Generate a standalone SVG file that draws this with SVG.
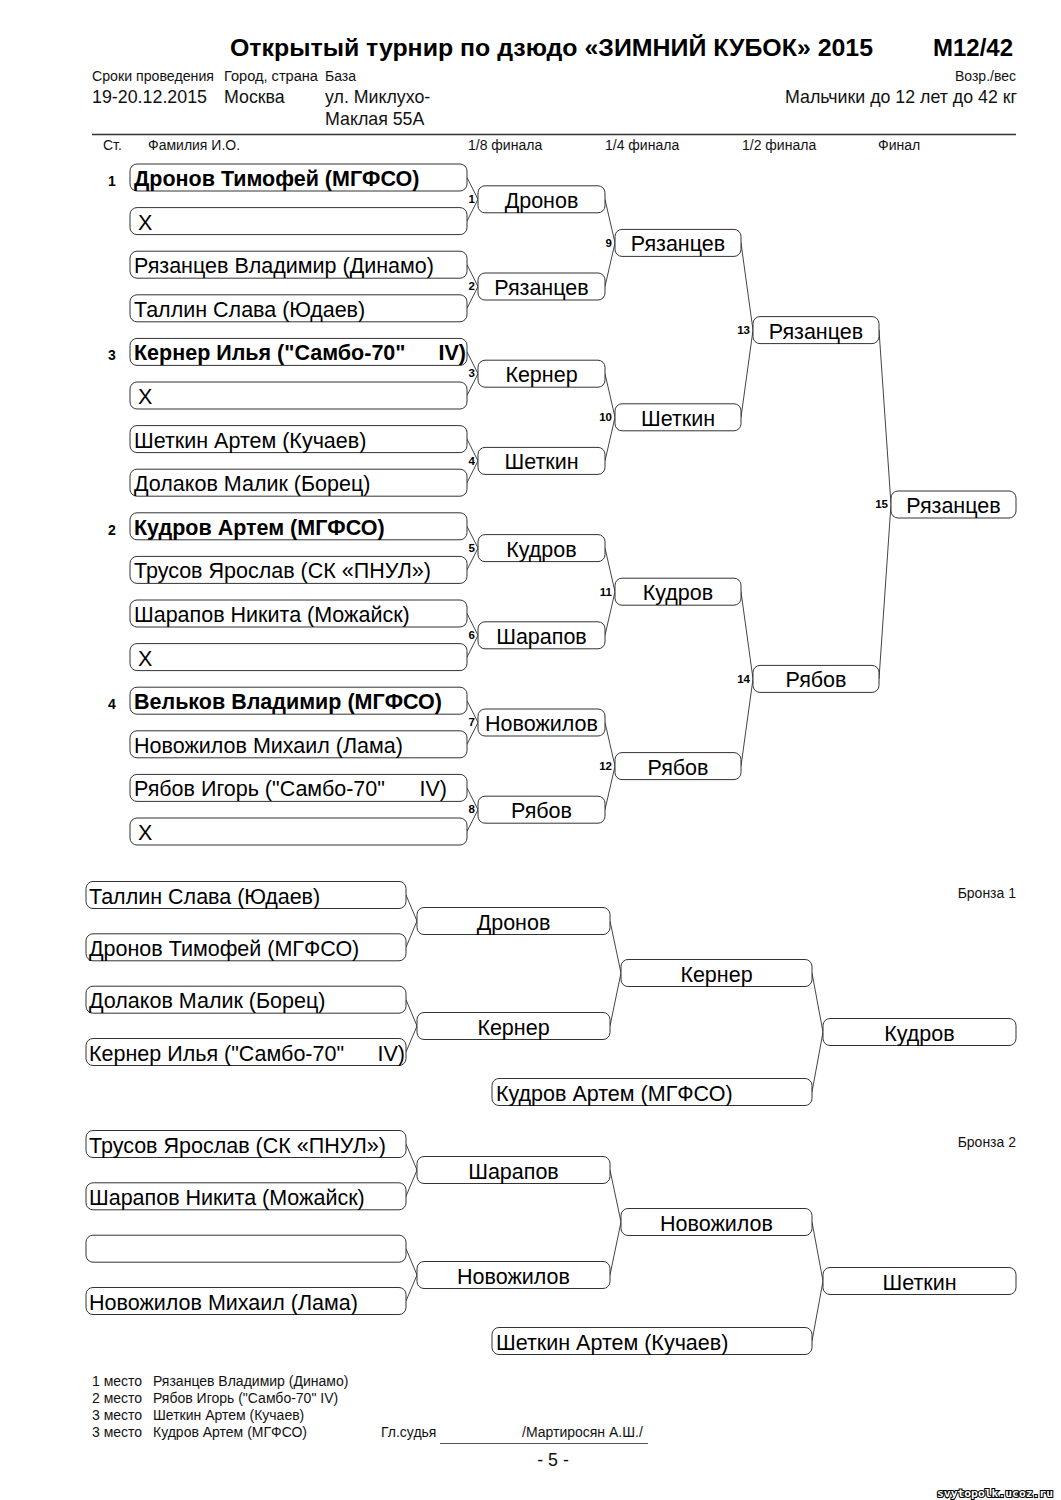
<svg xmlns="http://www.w3.org/2000/svg" width="1061" height="1500" viewBox="0 0 1061 1500">
<style>
.bx{fill:#fff;stroke:#333;stroke-width:1}
.nm{font-family:"Liberation Sans",Arial,sans-serif;font-size:21.5px;fill:#000}
.b{font-weight:bold}
.c{text-anchor:middle}
.sd{font-family:"Liberation Sans",Arial,sans-serif;font-size:14px;font-weight:bold}
.mn{font-family:"Liberation Sans",Arial,sans-serif;font-size:11.5px;font-weight:bold;text-anchor:end}
.sm{font-family:"Liberation Sans Narrow","Liberation Sans",Arial,sans-serif;font-size:14px;fill:#111}
.md{font-family:"Liberation Sans",Arial,sans-serif;font-size:17.8px;fill:#111}
.ln{stroke:#444;stroke-width:1;fill:none}
</style>
<rect width="1061" height="1500" fill="#fff"/>
<g id="header">
<text x="230" y="56" font-family="Liberation Sans,Arial,sans-serif" font-size="24" font-weight="bold" textLength="643" lengthAdjust="spacingAndGlyphs">Открытый турнир по дзюдо «ЗИМНИЙ КУБОК» 2015</text>
<text x="1013" y="56" font-family="Liberation Sans,Arial,sans-serif" font-size="24" font-weight="bold" text-anchor="end">М12/42</text>
<text class="sm" x="92" y="81" textLength="122" lengthAdjust="spacingAndGlyphs">Сроки проведения</text>
<text class="sm" x="224" y="81" textLength="94" lengthAdjust="spacingAndGlyphs">Город, страна</text>
<text class="sm" x="325" y="81">База</text>
<text class="sm" x="1016" y="81" text-anchor="end">Возр./вес</text>
<text class="md" x="92" y="103" textLength="115" lengthAdjust="spacingAndGlyphs">19-20.12.2015</text>
<text class="md" x="224" y="103">Москва</text>
<text class="md" x="325" y="103">ул. Миклухо-</text>
<text class="md" x="325" y="125">Маклая 55А</text>
<text class="md" x="1017" y="103" text-anchor="end" textLength="232" lengthAdjust="spacingAndGlyphs">Мальчики до 12 лет до 42 кг</text>
<line x1="92" y1="134.5" x2="1016" y2="134.5" stroke="#333" stroke-width="1.5"/>
<text class="sm" x="103" y="150">Ст.</text>
<text class="sm" x="148" y="150">Фамилия И.О.</text>
<text class="sm" x="468" y="150">1/8 финала</text>
<text class="sm" x="605" y="150">1/4 финала</text>
<text class="sm" x="742" y="150">1/2 финала</text>
<text class="sm" x="878" y="150">Финал</text>
</g>
<g id="connectors">
<path class="ln" d="M467,177.5L478,199.3L467,221.1 M467,264.7L478,286.5L467,308.3 M467,351.9L478,373.7L467,395.5 M467,439.1L478,460.9L467,482.7 M467,526.3L478,548.1L467,569.9 M467,613.5L478,635.3L467,657.1 M467,700.7L478,722.5L467,744.3 M467,787.9L478,809.7L467,831.5"/>
<path class="ln" d="M605,199.3L615,242.9L605,286.5 M605,373.7L615,417.3L605,460.9 M605,548.1L615,591.7L605,635.3 M605,722.5L615,766.1L605,809.7"/>
<path class="ln" d="M741,242.9L753,330.1L741,417.3 M741,591.7L753,678.9L741,766.1"/>
<path class="ln" d="M879,330.1L891,504.5L879,678.9"/>
<path class="ln" d="M406,895L417,921L406,947.3 M406,999.7L417,1026L406,1052 M610,921L621,973L610,1026 M812,973L823,1032L812,1092"/>
<path class="ln" d="M406,1144L417,1170L406,1196.3 M406,1248.7L417,1275L406,1301 M610,1170L621,1222L610,1275 M812,1222L823,1281L812,1341"/>
</g>
<g id="entrants">
<g id="e1"><text class="sd" x="108" y="186">1</text><rect class="bx" x="130" y="164" width="337" height="27" rx="7"/><text class="nm b" x="134" y="186">Дронов Тимофей (МГФСО)</text></g>
<g id="e2"><rect class="bx" x="130" y="207.6" width="337" height="27" rx="7"/><text class="nm" x="138" y="229.6">X</text></g>
<g id="e3"><rect class="bx" x="130" y="251.2" width="337" height="27" rx="7"/><text class="nm" x="134" y="273.2">Рязанцев Владимир (Динамо)</text></g>
<g id="e4"><rect class="bx" x="130" y="294.8" width="337" height="27" rx="7"/><text class="nm" x="134" y="316.8">Таллин Слава (Юдаев)</text></g>
<g id="e5"><text class="sd" x="108" y="360">3</text><rect class="bx" x="130" y="338.4" width="337" height="27" rx="7"/><text class="nm b" x="134" y="360.4">Кернер Илья ("Самбо-70"<tspan x="466" text-anchor="end">IV)</tspan></text></g>
<g id="e6"><rect class="bx" x="130" y="382" width="337" height="27" rx="7"/><text class="nm" x="138" y="404">X</text></g>
<g id="e7"><rect class="bx" x="130" y="425.6" width="337" height="27" rx="7"/><text class="nm" x="134" y="447.6">Шеткин Артем (Кучаев)</text></g>
<g id="e8"><rect class="bx" x="130" y="469.2" width="337" height="27" rx="7"/><text class="nm" x="134" y="491.2">Долаков Малик (Борец)</text></g>
<g id="e9"><text class="sd" x="108" y="535">2</text><rect class="bx" x="130" y="512.8" width="337" height="27" rx="7"/><text class="nm b" x="134" y="534.8">Кудров Артем (МГФСО)</text></g>
<g id="e10"><rect class="bx" x="130" y="556.4" width="337" height="27" rx="7"/><text class="nm" x="134" y="578.4">Трусов Ярослав (СК «ПНУЛ»)</text></g>
<g id="e11"><rect class="bx" x="130" y="600" width="337" height="27" rx="7"/><text class="nm" x="134" y="622">Шарапов Никита (Можайск)</text></g>
<g id="e12"><rect class="bx" x="130" y="643.6" width="337" height="27" rx="7"/><text class="nm" x="138" y="665.6">X</text></g>
<g id="e13"><text class="sd" x="108" y="709">4</text><rect class="bx" x="130" y="687.2" width="337" height="27" rx="7"/><text class="nm b" x="134" y="709.2">Вельков Владимир (МГФСО)</text></g>
<g id="e14"><rect class="bx" x="130" y="730.8" width="337" height="27" rx="7"/><text class="nm" x="134" y="752.8">Новожилов Михаил (Лама)</text></g>
<g id="e15"><rect class="bx" x="130" y="774.4" width="337" height="27" rx="7"/><text class="nm" x="134" y="796.4">Рябов Игорь ("Самбо-70"<tspan x="447" text-anchor="end">IV)</tspan></text></g>
<g id="e16"><rect class="bx" x="130" y="818" width="337" height="27" rx="7"/><text class="nm" x="138" y="840">X</text></g>
</g>
<g id="round16">
<g id="m1"><text class="mn" x="475" y="203">1</text><rect class="bx" x="478" y="185.8" width="127" height="27" rx="7"/><text class="nm c" x="541.5" y="207.8">Дронов</text></g>
<g id="m2"><text class="mn" x="475" y="290">2</text><rect class="bx" x="478" y="273" width="127" height="27" rx="7"/><text class="nm c" x="541.5" y="295">Рязанцев</text></g>
<g id="m3"><text class="mn" x="475" y="377">3</text><rect class="bx" x="478" y="360.2" width="127" height="27" rx="7"/><text class="nm c" x="541.5" y="382.2">Кернер</text></g>
<g id="m4"><text class="mn" x="475" y="465">4</text><rect class="bx" x="478" y="447.4" width="127" height="27" rx="7"/><text class="nm c" x="541.5" y="469.4">Шеткин</text></g>
<g id="m5"><text class="mn" x="475" y="552">5</text><rect class="bx" x="478" y="534.6" width="127" height="27" rx="7"/><text class="nm c" x="541.5" y="556.6">Кудров</text></g>
<g id="m6"><text class="mn" x="475" y="639">6</text><rect class="bx" x="478" y="621.8" width="127" height="27" rx="7"/><text class="nm c" x="541.5" y="643.8">Шарапов</text></g>
<g id="m7"><text class="mn" x="475" y="726">7</text><rect class="bx" x="478" y="709" width="127" height="27" rx="7"/><text class="nm c" x="541.5" y="731">Новожилов</text></g>
<g id="m8"><text class="mn" x="475" y="813">8</text><rect class="bx" x="478" y="796.2" width="127" height="27" rx="7"/><text class="nm c" x="541.5" y="818.2">Рябов</text></g>
</g>
<g id="quarter">
<g id="m9"><text class="mn" x="612" y="247">9</text><rect class="bx" x="615" y="229.4" width="126" height="27" rx="7"/><text class="nm c" x="678" y="251.4">Рязанцев</text></g>
<g id="m10"><text class="mn" x="612" y="421">10</text><rect class="bx" x="615" y="403.8" width="126" height="27" rx="7"/><text class="nm c" x="678" y="425.8">Шеткин</text></g>
<g id="m11"><text class="mn" x="612" y="596">11</text><rect class="bx" x="615" y="578.2" width="126" height="27" rx="7"/><text class="nm c" x="678" y="600.2">Кудров</text></g>
<g id="m12"><text class="mn" x="612" y="770">12</text><rect class="bx" x="615" y="752.6" width="126" height="27" rx="7"/><text class="nm c" x="678" y="774.6">Рябов</text></g>
</g>
<g id="semi">
<g id="m13"><text class="mn" x="750" y="334">13</text><rect class="bx" x="753" y="316.6" width="126" height="27" rx="7"/><text class="nm c" x="816" y="338.6">Рязанцев</text></g>
<g id="m14"><text class="mn" x="750" y="683">14</text><rect class="bx" x="753" y="665.4" width="126" height="27" rx="7"/><text class="nm c" x="816" y="687.4">Рябов</text></g>
</g>
<g id="final">
<g id="m15"><text class="mn" x="888" y="508">15</text><rect class="bx" x="891" y="491" width="125" height="27" rx="7"/><text class="nm c" x="953.5" y="513">Рязанцев</text></g>
</g>
<g id="bronze1">
<text class="sm" x="1016" y="898" text-anchor="end">Бронза 1</text>
<g id="b1e1"><rect class="bx" x="86" y="881.5" width="320" height="27" rx="7"/><text class="nm" x="89" y="903.5">Таллин Слава (Юдаев)</text></g>
<g id="b1e2"><rect class="bx" x="86" y="933.8" width="320" height="27" rx="7"/><text class="nm" x="89" y="955.8">Дронов Тимофей (МГФСО)</text></g>
<g id="b1e3"><rect class="bx" x="86" y="986.2" width="320" height="27" rx="7"/><text class="nm" x="89" y="1008.2">Долаков Малик (Борец)</text></g>
<g id="b1e4"><rect class="bx" x="86" y="1038.5" width="320" height="27" rx="7"/><text class="nm" x="89" y="1060.5">Кернер Илья ("Самбо-70"<tspan x="405" text-anchor="end">IV)</tspan></text></g>
<g id="b1r1"><rect class="bx" x="417" y="907.5" width="193" height="27" rx="7"/><text class="nm c" x="513.5" y="929.5">Дронов</text></g>
<g id="b1r2"><rect class="bx" x="417" y="1012.5" width="193" height="27" rx="7"/><text class="nm c" x="513.5" y="1034.5">Кернер</text></g>
<g id="b1s"><rect class="bx" x="621" y="959.5" width="191" height="27" rx="7"/><text class="nm c" x="716.5" y="981.5">Кернер</text></g>
<g id="b1e5"><rect class="bx" x="492" y="1078.5" width="320" height="27" rx="7"/><text class="nm" x="496" y="1100.5">Кудров Артем (МГФСО)</text></g>
<g id="b1f"><rect class="bx" x="823" y="1018.5" width="193" height="27" rx="7"/><text class="nm c" x="919.5" y="1040.5">Кудров</text></g>
</g>
<g id="bronze2">
<text class="sm" x="1016" y="1147" text-anchor="end">Бронза 2</text>
<g id="b2e1"><rect class="bx" x="86" y="1130.5" width="320" height="27" rx="7"/><text class="nm" x="89" y="1152.5">Трусов Ярослав (СК «ПНУЛ»)</text></g>
<g id="b2e2"><rect class="bx" x="86" y="1182.8" width="320" height="27" rx="7"/><text class="nm" x="89" y="1204.8">Шарапов Никита (Можайск)</text></g>
<g id="b2e3"><rect class="bx" x="86" y="1235.2" width="320" height="27" rx="7"/></g>
<g id="b2e4"><rect class="bx" x="86" y="1287.5" width="320" height="27" rx="7"/><text class="nm" x="89" y="1309.5">Новожилов Михаил (Лама)</text></g>
<g id="b2r1"><rect class="bx" x="417" y="1156.5" width="193" height="27" rx="7"/><text class="nm c" x="513.5" y="1178.5">Шарапов</text></g>
<g id="b2r2"><rect class="bx" x="417" y="1261.5" width="193" height="27" rx="7"/><text class="nm c" x="513.5" y="1283.5">Новожилов</text></g>
<g id="b2s"><rect class="bx" x="621" y="1208.5" width="191" height="27" rx="7"/><text class="nm c" x="716.5" y="1230.5">Новожилов</text></g>
<g id="b2e5"><rect class="bx" x="492" y="1327.5" width="320" height="27" rx="7"/><text class="nm" x="496" y="1349.5">Шеткин Артем (Кучаев)</text></g>
<g id="b2f"><rect class="bx" x="823" y="1267.5" width="193" height="27" rx="7"/><text class="nm c" x="919.5" y="1289.5">Шеткин</text></g>
</g>
<g id="footer">
<text class="sm" x="92" y="1386">1 место</text><text class="sm" x="153" y="1386">Рязанцев Владимир (Динамо)</text>
<text class="sm" x="92" y="1403">2 место</text><text class="sm" x="153" y="1403">Рябов Игорь ("Самбо-70" IV)</text>
<text class="sm" x="92" y="1420">3 место</text><text class="sm" x="153" y="1420">Шеткин Артем (Кучаев)</text>
<text class="sm" x="92" y="1437">3 место</text><text class="sm" x="153" y="1437">Кудров Артем (МГФСО)</text>
<text class="sm" x="381" y="1437">Гл.судья</text>
<text class="sm" x="522" y="1437">/Мартиросян А.Ш./</text>
<line x1="440" y1="1443.5" x2="648" y2="1443.5" stroke="#555" stroke-width="1"/>
<text class="md" x="553" y="1466" text-anchor="middle">- 5 -</text>
<text x="937" y="1497" font-family="DejaVu Sans Mono,monospace" font-size="11.3" font-weight="bold" fill="#fff" stroke="#000" stroke-width="2.2" paint-order="stroke" textLength="116" lengthAdjust="spacingAndGlyphs">svytopolk.ucoz.ru</text>
</g>
</svg>
